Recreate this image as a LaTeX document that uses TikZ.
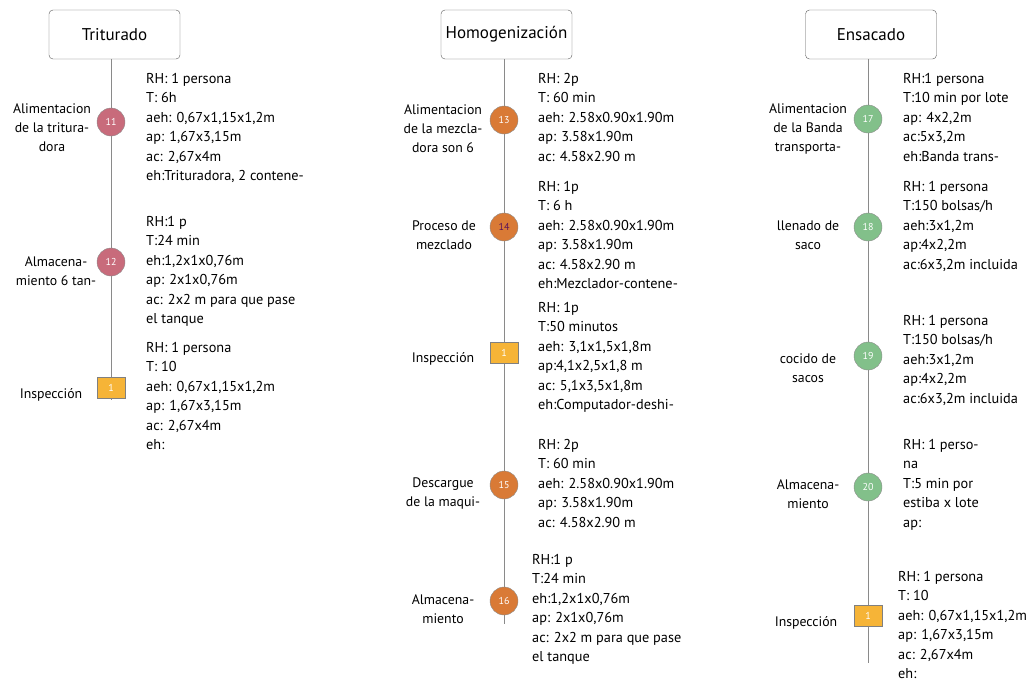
\documentclass[tikz,border=0pt]{standalone}
\usepackage{fontspec}
\setmainfont{PT Sans}
\usetikzlibrary{positioning}
\definecolor{tritu}{HTML}{C86B7B}
\definecolor{homog}{HTML}{D97A36}
\definecolor{ensac}{HTML}{82C08A}
\definecolor{inspe}{HTML}{F6B437}
\definecolor{linea}{HTML}{8A8A8A}

\begin{document}
\begin{tikzpicture}[x=1pt,y=-1pt,
    etapa/.style={draw=black!65,rounded corners=4pt,minimum width=131pt,minimum height=49pt,font=\fontsize{17}{19}\selectfont},
    oper/.style={circle,draw=black!45,minimum size=28pt,inner sep=0pt,text=white,font=\fontsize{10}{12}\selectfont},
    insp/.style={draw=black!50,fill=inspe,minimum width=28pt,minimum height=21pt,inner sep=0pt,text=white,font=\fontsize{10}{12}\selectfont},
    nombre/.style={align=center,inner sep=0pt,font=\fontsize{13.8}{19}\selectfont},
    datos/.style={align=left,anchor=north west,inner sep=0pt,font=\fontsize{14.3}{19.5}\selectfont},
    eje/.style={draw=linea,line width=0.8pt}]
        \useasboundingbox (0,0) rectangle (1036,681);
        % Triturado
        \node[etapa] (T) at (114.5,34.5) {Triturado};
        \node[oper,fill=tritu] (o11) at (111,122) {11};
        \node[oper,fill=tritu] (o12) at (111,262) {12};
        \node[insp] (i1) at (111,388) {1};
        \coordinate (fT) at (111,400);
        \draw[eje] (o11 |- T.south) -- (o11) -- (o12) -- (i1) -- (fT);
        \node[nombre] (n11) at (52,128) {Alimentacion\\de la tritura-\\dora};
        \node[nombre] (n12) at (56,271) {Almacena-\\miento 6 tan-};
        \node[nombre] (ni1) at (51,395) {Inspección};
        \node[datos] (d11) at (146,73) {RH: 1 persona\\T: 6h\\aeh: 0,67x1,15x1,2m\\ap: 1,67x3,15m\\ac: 2,67x4m\\eh:Trituradora, 2 contene-};
        \node[datos] (d12) at (146,216) {RH:1 p\\T:24 min\\eh:1,2x1x0,76m\\ap: 2x1x0,76m\\ac: 2x2 m para que pase\\el tanque};
        \node[datos] (di1) at (146,342) {RH: 1 persona\\T: 10\\aeh: 0,67x1,15x1,2m\\ap: 1,67x3,15m\\ac: 2,67x4m\\eh:};
        % Homogenizacion
        \node[etapa] (H) at (506.5,34.5) {Homogenización};
        \node[oper,fill=homog] (o13) at (504,120) {13};
        \node[oper,fill=homog,text={rgb,255:red,90;green,20;blue,90}] (o14) at (504,227) {14};
        \node[insp] (i2) at (504,353) {1};
        \node[oper,fill=homog] (o15) at (504,485) {15};
        \node[oper,fill=homog] (o16) at (504,601) {16};
        \coordinate (fH) at (504,624);
        \draw[eje] (o13 |- H.south) -- (o13) -- (o14) -- (i2) -- (o15) -- (o16) -- (fH);
        \node[nombre] (n13) at (443,129) {Alimentacion\\de la mezcla-\\dora son 6};
        \node[nombre] (n14) at (444,235.5) {Proceso de\\mezclado};
        \node[nombre] (ni2) at (443,359) {Inspección};
        \node[nombre] (n15) at (443,493.5) {Descargue\\de la maqui-};
        \node[nombre] (n16) at (443,609.5) {Almacena-\\miento};
        \node[datos] (d13) at (538,73) {RH: 2p\\T: 60 min\\aeh: 2.58x0.90x1.90m\\ap: 3.58x1.90m\\ac: 4.58x2.90 m};
        \node[datos] (d14) at (538,181) {RH: 1p\\T: 6 h\\aeh: 2.58x0.90x1.90m\\ap: 3.58x1.90m\\ac: 4.58x2.90 m\\eh:Mezclador-contene-};
        \node[datos] (di2) at (538,302) {RH: 1p\\T:50 minutos\\aeh: 3,1x1,5x1,8m\\ap:4,1x2,5x1,8 m\\ac: 5,1x3,5x1,8m\\eh:Computador-deshi-};
        \node[datos] (d15) at (538,439) {RH: 2p\\T: 60 min\\aeh: 2.58x0.90x1.90m\\ap: 3.58x1.90m\\ac: 4.58x2.90 m};
        \node[datos] (d16) at (532,554) {RH:1 p\\T:24 min\\eh:1,2x1x0,76m\\ap: 2x1x0,76m\\ac: 2x2 m para que pase\\el tanque};
        % Ensacado
        \node[etapa] (E) at (871,34.5) {Ensacado};
        \node[oper,fill=ensac] (o17) at (868,119) {17};
        \node[oper,fill=ensac] (o18) at (868,227) {18};
        \node[oper,fill=ensac] (o19) at (868,356) {19};
        \node[oper,fill=ensac] (o20) at (868,487) {20};
        \node[insp] (i3) at (868,616) {1};
        \coordinate (fE) at (868,663);
        \draw[eje] (o17 |- E.south) -- (o17) -- (o18) -- (o19) -- (o20) -- (i3) -- (fE);
        \node[nombre] (n17) at (808,129) {Alimentacion\\de la Banda\\transporta-};
        \node[nombre] (n18) at (808,235.5) {llenado de\\saco};
        \node[nombre] (n19) at (808,368.5) {cocido de\\sacos};
        \node[nombre] (n20) at (808,494.5) {Almacena-\\miento};
        \node[nombre] (ni3) at (806,623) {Inspección};
        \node[datos] (d17) at (903,73) {RH:1 persona\\T:10 min por lote\\ap: 4x2,2m\\ac:5x3,2m\\eh:Banda trans-};
        \node[datos] (d18) at (903,181) {RH: 1 persona\\T:150 bolsas/h\\aeh:3x1,2m\\ap:4x2,2m\\ac:6x3,2m incluida};
        \node[datos] (d19) at (903,315) {RH: 1 persona\\T:150 bolsas/h\\aeh:3x1,2m\\ap:4x2,2m\\ac:6x3,2m incluida};
        \node[datos] (d20) at (903,439) {RH: 1 perso-\\na\\T:5 min por\\estiba x lote\\ap:};
        \node[datos] (di3) at (898,571) {RH: 1 persona\\T: 10\\aeh: 0,67x1,15x1,2m\\ap: 1,67x3,15m\\ac: 2,67x4m\\eh:};
    \end{tikzpicture}
\end{document}
